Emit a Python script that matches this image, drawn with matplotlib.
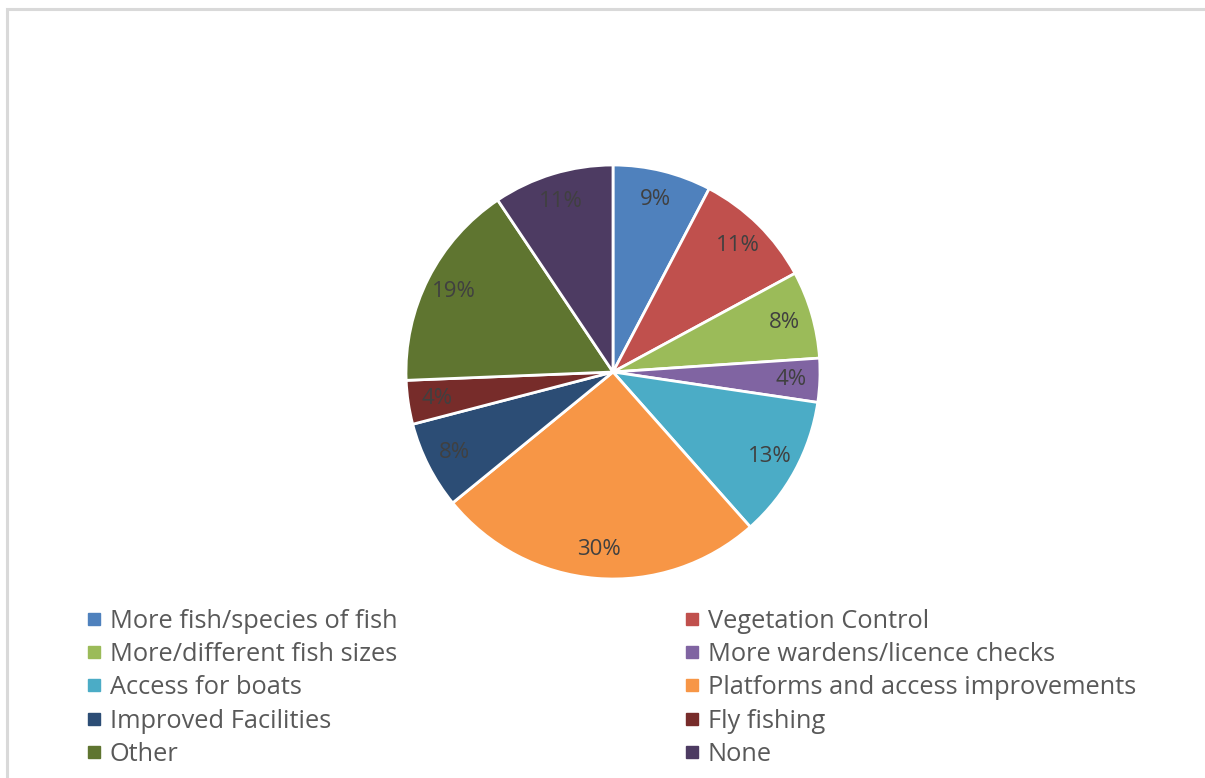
import matplotlib.pyplot as plt
from matplotlib.lines import Line2D
from matplotlib.patches import Rectangle

categories = [
    "More fish/species of fish",
    "Vegetation Control",
    "More/different fish sizes",
    "More wardens/licence checks",
    "Access for boats",
    "Platforms and access improvements",
    "Improved Facilities",
    "Fly fishing",
    "Other",
    "None",
]
values = [9, 11, 8, 4, 13, 30, 8, 4, 19, 11]
pct_labels = ["9%", "11%", "8%", "4%", "13%", "30%", "8%", "4%", "19%", "11%"]
colors = ["#4F81BD", "#C0504D", "#9BBB59", "#8064A2", "#4BACC6",
          "#F79646", "#2C4D75", "#772C2A", "#5F7530", "#4D3B62"]

W, H = 1205, 778
plt.rcParams['font.family'] = ['Open Sans', 'DejaVu Sans']
fig = plt.figure(figsize=(W / 100, H / 100), dpi=100)

# light grey chart frame (only top/left edges visible in the crop)
fig.patches.append(Rectangle((7 / W, -0.1), 1.2, 1 - 9 / H + 0.1,
                             transform=fig.transFigure, fill=False,
                             edgecolor="#D9D9D9", linewidth=2.2))

# pie axes placed by pixel centre / radius
cx, cy, r = 613, 372, 207
ax = fig.add_axes([(cx - r) / W, (H - cy - r) / H, 2 * r / W, 2 * r / H])
wedges, texts = ax.pie(values, labels=pct_labels, colors=colors,
                       startangle=90, counterclock=False, labeldistance=0.86,
                       wedgeprops=dict(edgecolor="white", linewidth=2),
                       textprops=dict(color="#404040", fontsize=16))
for t in texts:
    t.set_ha("center")
    t.set_va("center")
ax.set_xlim(-1, 1)
ax.set_ylim(-1, 1)
ax.set_aspect("equal")

# legend is row-major in the reference: even items left, odd items right
def add_legend(idx, x_px):
    handles = [Line2D([], [], marker="s", linestyle="none", markersize=8.6,
                      markerfacecolor=colors[i], markeredgecolor=colors[i])
               for i in idx]
    leg = fig.legend(handles, [categories[i] for i in idx],
                     loc="upper left", bbox_to_anchor=(x_px / W, 1 - 608.5 / H),
                     frameon=False, fontsize=18.3, labelcolor="#595959",
                     handlelength=0.8, handletextpad=0.22,
                     labelspacing=0.33, borderaxespad=0, borderpad=0)
    return leg

add_legend([0, 2, 4, 6, 8], 84)
add_legend([1, 3, 5, 7, 9], 682)

fig.savefig("out.png", dpi=100)
